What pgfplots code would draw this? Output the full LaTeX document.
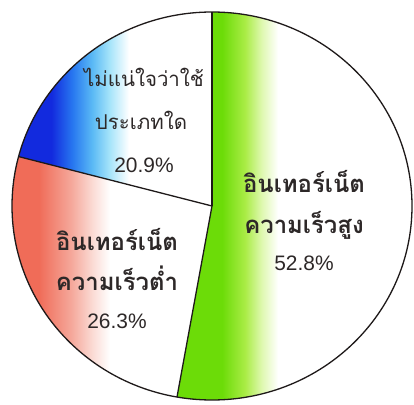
\documentclass[border=0pt]{standalone}
\usepackage{fontspec}
\setmainfont{Liberation Sans}
\newfontfamily\thai[Script=Thai]{Loma}
\usepackage{pgfplots}
\usepackage{pgfplotstable}
\pgfplotsset{compat=1.18}
\definecolor{pgreen}{RGB}{108,220,8}
\definecolor{pygreen}{RGB}{170,236,70}
\definecolor{ppgreen}{RGB}{222,248,175}
\definecolor{pred}{RGB}{240,108,88}
\definecolor{pmred}{RGB}{245,168,155}
\definecolor{ppred}{RGB}{251,222,216}
\definecolor{pblue}{RGB}{18,42,222}
\definecolor{pmblue}{RGB}{40,120,240}
\definecolor{plblue}{RGB}{90,185,245}
\definecolor{pcyan}{RGB}{165,228,250}
\definecolor{ptext}{RGB}{45,40,40}
\definecolor{pline}{RGB}{30,25,25}
\pgfdeclarehorizontalshading{greenfade}{100bp}{color(0bp)=(pgreen); color(34.6bp)=(pgreen); color(39.5bp)=(pygreen); color(43bp)=(ppgreen); color(46.5bp)=(white); color(100bp)=(white)}
\pgfdeclarehorizontalshading{redfade}{100bp}{color(0bp)=(pred); color(32.5bp)=(pred); color(40.5bp)=(pmred); color(46bp)=(ppred); color(50bp)=(white); color(100bp)=(white)}
\pgfdeclarehorizontalshading{bluefade}{100bp}{color(0bp)=(pblue); color(33.5bp)=(pblue); color(39bp)=(pmblue); color(44bp)=(plblue); color(48.5bp)=(pcyan); color(53.5bp)=(white); color(100bp)=(white)}
\pgfplotstableread{
label value
high 52.8
low 26.3
unsure 20.9
}\piedata
\pgfplotstablegetelem{0}{value}\of\piedata\let\va\pgfplotsretval
\pgfplotstablegetelem{1}{value}\of\piedata\let\vb\pgfplotsretval
\pgfplotstablegetelem{2}{value}\of\piedata\let\vc\pgfplotsretval
\pgfmathsetmacro{\aA}{90}
\pgfmathsetmacro{\aB}{\aA-3.6*\va}
\pgfmathsetmacro{\aC}{\aB-3.6*\vb}
\pgfmathsetmacro{\aD}{\aC-3.6*\vc}
\begin{document}%
\begin{tikzpicture}
\begin{axis}[
  scale only axis, width=414bp, height=402bp,
  xmin=0, xmax=414, ymin=0, ymax=402,
  hide axis, clip=false,
]
\path (axis cs:0,0) rectangle (axis cs:414,402);
\shade[shading=greenfade] (axis cs:212,196) -- ++(\aA:200bp and 194bp) arc[start angle=\aA, end angle=\aB, x radius=200bp, y radius=194bp] -- cycle;
\shade[shading=redfade] (axis cs:212,196) -- ++(\aB:200bp and 194bp) arc[start angle=\aB, end angle=\aC, x radius=200bp, y radius=194bp] -- cycle;
\shade[shading=bluefade] (axis cs:212,196) -- ++(\aC:200bp and 194bp) arc[start angle=\aC, end angle=\aD, x radius=200bp, y radius=194bp] -- cycle;
\draw[pline, line width=1.3bp] (axis cs:212,196) ellipse [x radius=200bp, y radius=194bp];
\draw[pline, line width=1.3bp] (axis cs:212,196) -- ++(\aA:200bp and 194bp);
\draw[pline, line width=1.3bp] (axis cs:212,196) -- ++(\aB:200bp and 194bp);
\draw[pline, line width=1.3bp] (axis cs:212,196) -- ++(\aC:200bp and 194bp);
\begin{scope}[every node/.style={text=ptext, anchor=base, inner sep=0pt}]
\node at (axis cs:304,210) {\thai\bfseries\fontsize{24}{28}\selectfont อินเทอร์เน็ต};
\node at (axis cs:304,169) {\thai\bfseries\fontsize{24}{28}\selectfont ความเร็วสูง};
\node at (axis cs:304,132) {\fontsize{21}{24}\selectfont 52.8\%};
\node at (axis cs:117,152) {\thai\bfseries\fontsize{24}{28}\selectfont อินเทอร์เน็ต};
\node at (axis cs:117,112) {\thai\bfseries\fontsize{24}{28}\selectfont ความเร็วต่ำ};
\node at (axis cs:117,74) {\fontsize{21}{24}\selectfont 26.3\%};
\node at (axis cs:144,315) {\thai\fontsize{20.5}{24}\selectfont ไม่แน่ใจว่าใช้};
\node at (axis cs:141,272) {\thai\fontsize{20.5}{24}\selectfont ประเภทใด};
\node at (axis cs:144,229) {\fontsize{21}{24}\selectfont 20.9\%};
\end{scope}
\end{axis}
\end{tikzpicture}%
\end{document}
